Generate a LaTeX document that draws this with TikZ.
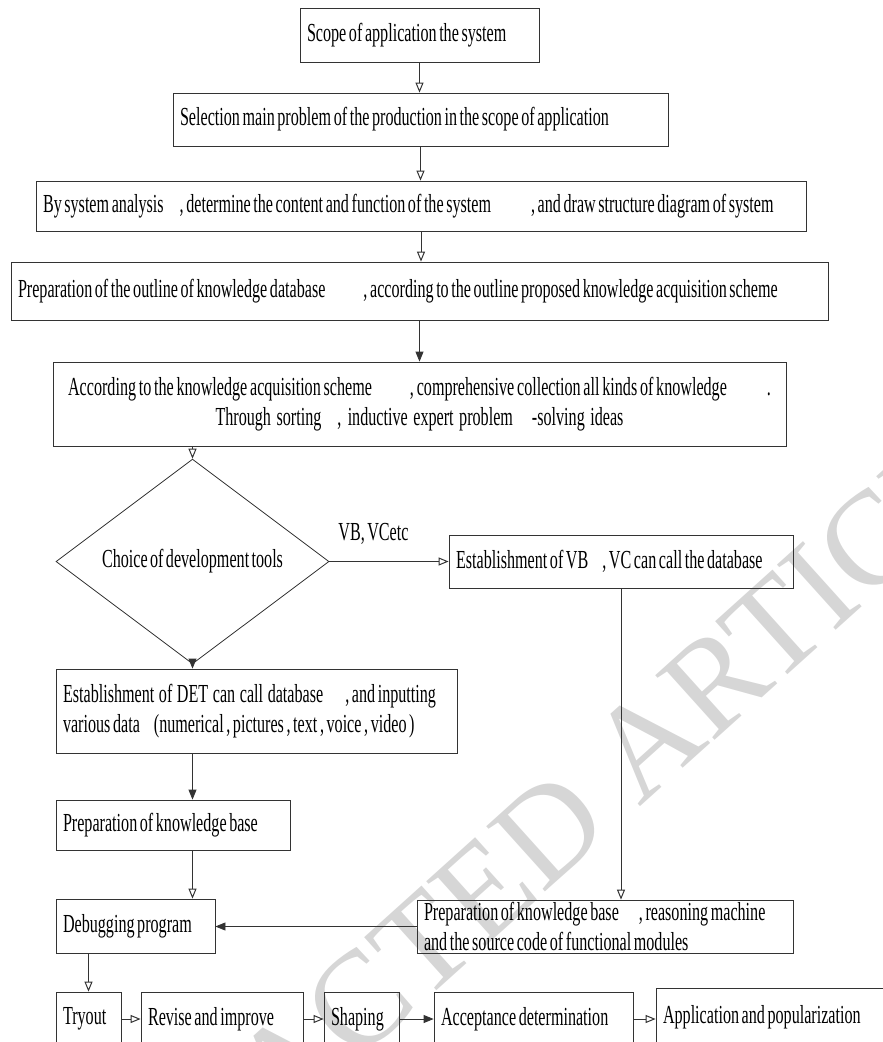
\documentclass[tikz,border=0pt]{standalone}
\usepackage{fontspec}
\setmainfont[FakeStretch=0.62,WordSpace=0.6]{Liberation Serif}
\newfontfamily\wmfont{Liberation Serif}
\usetikzlibrary{arrows.meta, positioning, shapes.geometric, calc}
\definecolor{linegray}{HTML}{333333}
\definecolor{markgray}{HTML}{D6D6D6}

\begin{document}
\begin{tikzpicture}[x=1pt, y=-1pt,
    box/.style={draw=linegray, line width=0.8pt, rectangle, inner xsep=7pt, inner ysep=0pt,
        align=left, font=\fontsize{26}{30}\selectfont,
        execute at begin node={\spaceskip=2.6pt plus 1pt minus 0.5pt\hyphenpenalty=10000\relax}},
    choicebox/.style={draw=linegray, line width=0.8pt, diamond, inner sep=0pt,
        minimum width=273pt, minimum height=107pt, font=\fontsize{26}{30}\selectfont},
    oarr/.style={draw=linegray, line width=0.8pt, -{Triangle[open, length=10pt, width=8pt, line width=1pt]}},
    farr/.style={draw=linegray, line width=0.8pt, -{Triangle[length=10pt, width=8pt]}}]
    \useasboundingbox (0,0) rectangle (883,1042);

    % ===== Watermark =====
    \begin{scope}
        \clip (0,0) rectangle (883,1042);
        \node[rotate=42, text=markgray, inner sep=0pt, font=\wmfont\fontsize{134}{134}\selectfont]
            (mark) at (512,864) {RETRACTED ARTICLE};
    \end{scope}

    % ===== Main column =====
    \node[box, text width=225pt, minimum height=54pt] (scope) at (419.5,35) {Scope of application the system};
    \node[box, text width=481pt, minimum height=53pt] (select) at (420.5,119.5)
        {Selection main problem of the production in the scope of application};
    \node[box, text width=756pt, minimum height=50pt] (analysis) at (421,206)
        {By system analysis\hspace{16pt}, determine the content and function of the system\hspace{40pt}, and draw structure diagram of system};
    \node[box, text width=803pt, minimum height=58pt] (outline) at (419.5,291)
        {Preparation of the outline of knowledge database\hspace{38pt}, according to the outline proposed knowledge acquisition scheme};
    \node[box, text width=719pt, minimum height=84pt, align=center] (collect) at (419.5,404)
        {According to the knowledge acquisition scheme\hspace{38pt}, comprehensive collection all kinds of knowledge\hspace{40pt}.\\
         Through sorting\hspace{16pt}, inductive expert problem\hspace{19pt}-solving ideas};

    % ===== Tools branch =====
    \node[choicebox] (choice) at (192.5,561.5) {Choice of development tools};
    \node[box, text width=330pt, minimum height=53pt] (vbvc) at (621,561.5)
        {Establishment of VB\hspace{14pt}, VC can call the database};
    \node[box, text width=387pt, minimum height=84pt] (det) at (256.5,711)
        {Establishment\hspace{2pt} of\hspace{2pt} DET\hspace{2pt} can\hspace{2pt} call\hspace{2pt} database\hspace{22pt}, and inputting\\
         various data\hspace{14pt}(numerical , pictures , text , voice , video )};
    \node[box, text width=220pt, minimum height=50pt] (kbase) at (173,825) {Preparation of knowledge base};
    \node[box, text width=362pt, minimum height=53pt] (reason) at (605,926.5)
        {Preparation of knowledge base\hspace{20pt}, reasoning machine\\
         and the source code of functional modules};
    \node[box, text width=145pt, minimum height=54pt] (debug) at (135.5,926) {Debugging program};

    % ===== Bottom row =====
    \node[box, text width=51pt, minimum height=54pt] (tryout) at (88.5,1019) {Tryout};
    \node[box, text width=148pt, minimum height=54pt] (revise) at (222,1019) {Revise and improve};
    \node[box, text width=61pt, minimum height=54pt] (shaping) at (361.5,1019) {Shaping};
    \node[box, text width=185pt, minimum height=54pt] (accept) at (533.5,1019) {Acceptance determination};
    \node[box, text width=240pt, minimum height=58pt] (apply) at (783,1017) {Application and popularization};

    % ===== Connectors =====
    \draw[oarr] (scope.south) -- (scope.south |- select.north);
    \draw[oarr] (select.south) -- (select.south |- analysis.north);
    \draw[oarr] (analysis.south) -- (analysis.south |- outline.north);
    \draw[farr] (outline.south) -- (outline.south |- collect.north);
    \draw[oarr] (choice.north |- collect.south) -- (choice.north);
    \draw[oarr] (choice.east) -- node[pos=0.37, above=17pt, inner sep=0pt, font=\fontsize{26}{30}\selectfont]
        (tools) {VB, VCetc} (vbvc.west);
    \draw[farr] (choice.south) -- (choice.south |- det.north);
    \draw[farr] (choice.south |- det.south) -- (choice.south |- kbase.north);
    \draw[oarr] (choice.south |- kbase.south) -- (choice.south |- debug.north);
    \draw[oarr] (vbvc.south) -- (vbvc.south |- reason.north);
    \draw[farr] (reason.west) -- (reason.west -| debug.east);
    \draw[oarr] (tryout.north |- debug.south) -- (tryout.north);
    \draw[oarr] (tryout.east) -- (revise.west);
    \draw[oarr] (revise.east) -- (shaping.west);
    \draw[farr] (shaping.east) -- (accept.west);
    \draw[oarr] (accept.east) -- (accept.east -| apply.west);
\end{tikzpicture}
\end{document}
